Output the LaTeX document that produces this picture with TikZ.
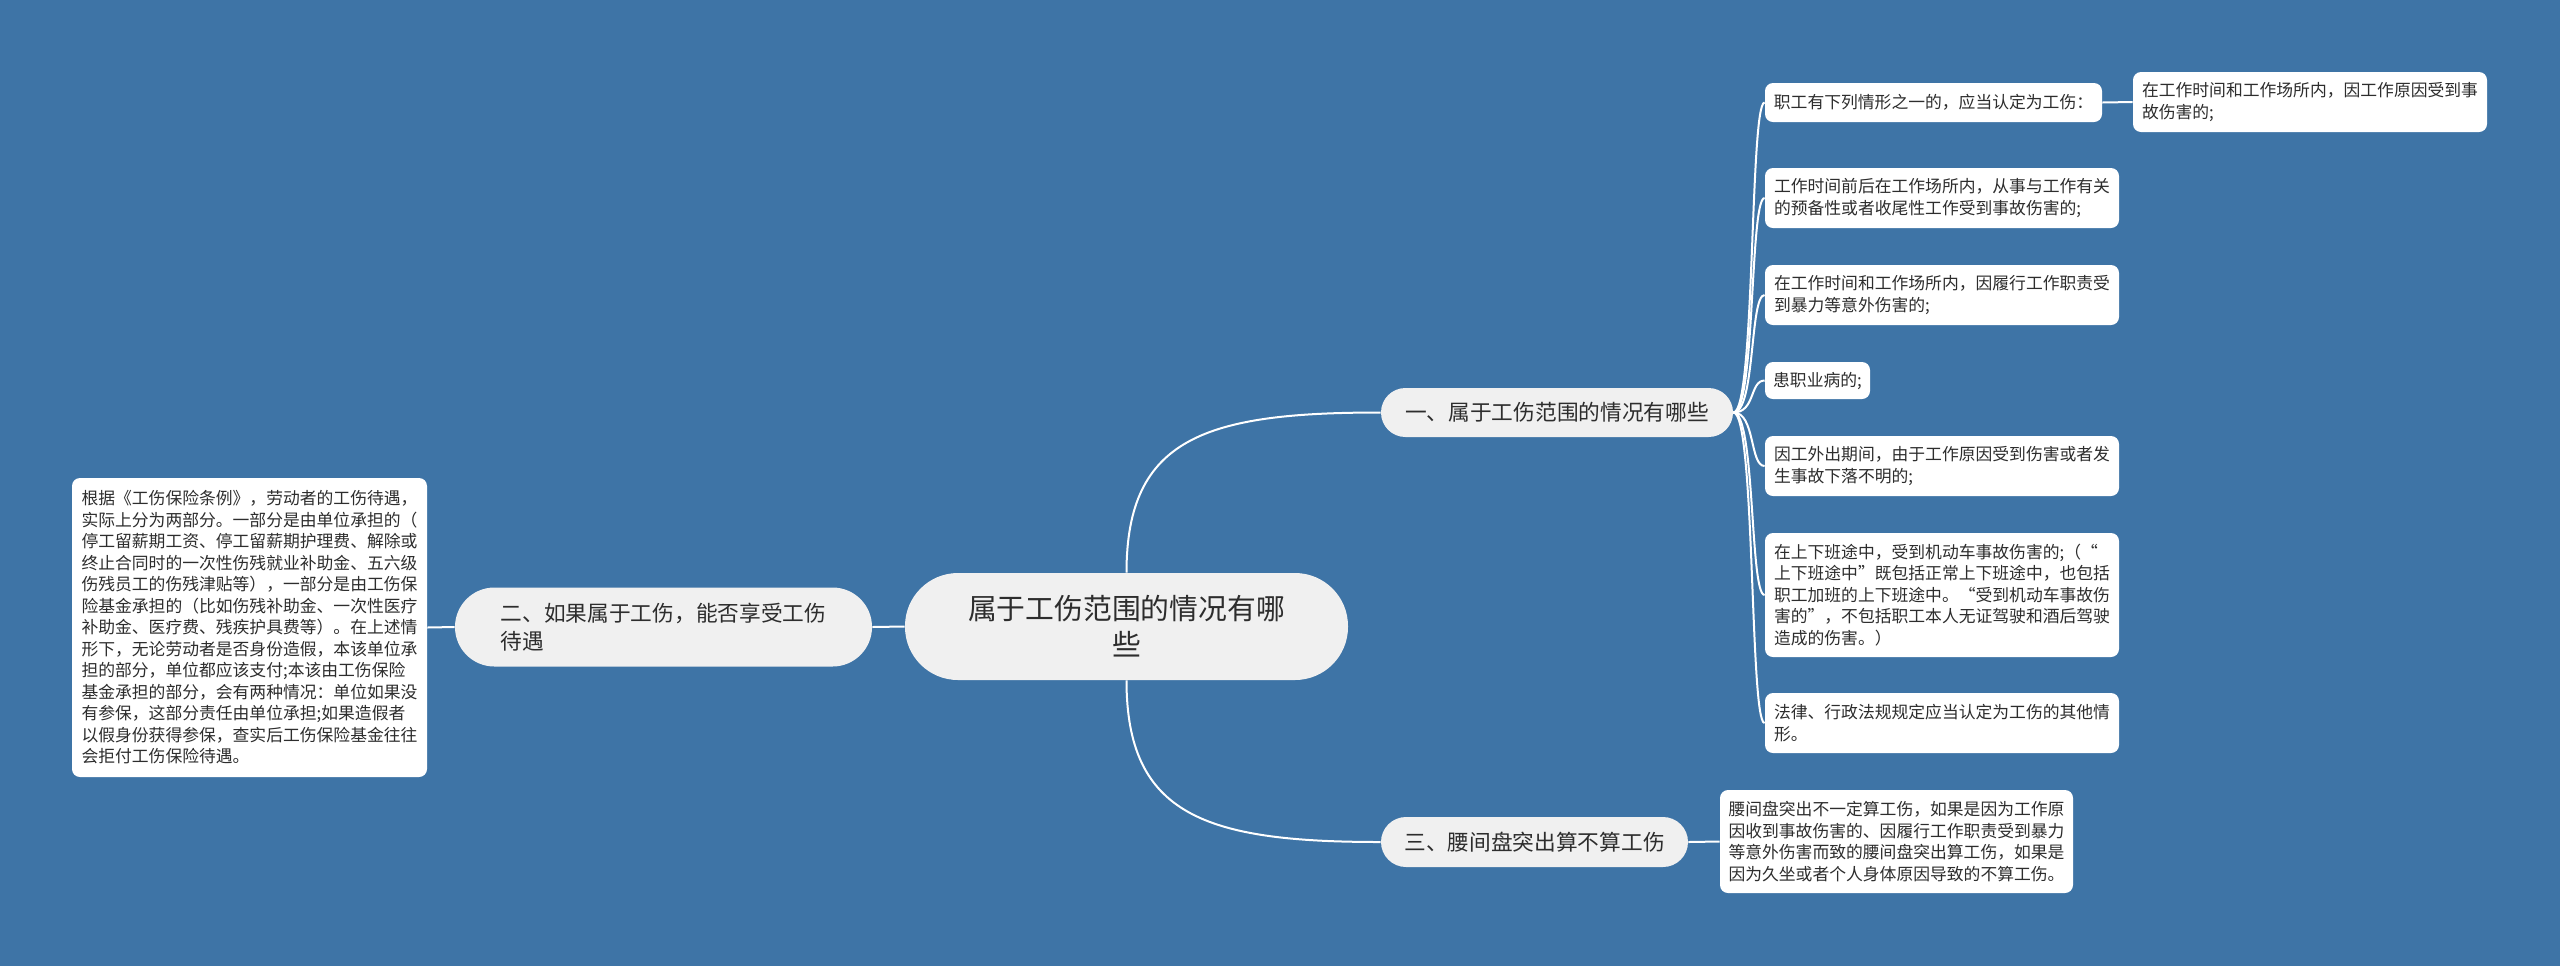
\documentclass[tikz,border=0pt]{standalone}
\usepackage{fontspec}
\setmainfont{Noto Sans CJK SC}
\usepackage{tikz}
\usetikzlibrary{positioning}
\definecolor{bgblue}{RGB}{62,116,166}
\definecolor{nodegray}{RGB}{240,240,240}
\definecolor{inkgray}{RGB}{45,45,45}
\tikzset{root/.style = {fill = nodegray, align = center, text = inkgray, inner sep = 0, font = \fontsize{14.4pt}{18pt}\selectfont}}
\tikzset{topic/.style = {fill = nodegray, align = left, text = inkgray, inner sep = 0, font = \fontsize{10.85pt}{14pt}\selectfont}}
\tikzset{leaf/.style = {fill = white, rounded corners = 4pt, align = left, text = inkgray, inner sep = 0, font = \fontsize{8.4pt}{10.75pt}\selectfont}}
\tikzset{link/.style = {draw = white, line width = 1pt}}

\begin{document}
\begin{tikzpicture}[x = 0.5pt, y = -0.5pt]

      \fill [bgblue] (0, 0) rectangle (2560, 966);

      \node [root, rounded corners = 26.5pt, minimum width = 221.5pt, minimum height = 53.5pt] (0) at (1126.5, 626.5) {属于工伤范围的情况有哪\\些};
      \node [topic, rounded corners = 12.2pt, minimum width = 176pt, minimum height = 24.5pt] (1) at (1557, 412.5) {一、属于工伤范围的情况有哪些};
      \node [topic, rounded corners = 19.7pt, minimum width = 208.5pt, minimum height = 39.5pt] (2) at (663.5, 627) {二、如果属于工伤，能否享受工伤\\待遇};
      \node [topic, rounded corners = 12.5pt, minimum width = 153.5pt, minimum height = 25pt] (3) at (1534.5, 842) {三、腰间盘突出算不算工伤};

      \node [leaf, minimum width = 177.5pt, minimum height = 149.5pt] (4) at (249.5, 627.5) {根据《工伤保险条例》，劳动者的工伤待遇，\\
        实际上分为两部分。一部分是由单位承担的（\\
        停工留薪期工资、停工留薪期护理费、解除或\\
        终止合同时的一次性伤残就业补助金、五六级\\
        伤残员工的伤残津贴等），一部分是由工伤保\\
        险基金承担的（比如伤残补助金、一次性医疗\\
        补助金、医疗费、残疾护具费等）。在上述情\\
        形下，无论劳动者是否身份造假，本该单位承\\
        担的部分，单位都应该支付;本该由工伤保险\\
        基金承担的部分，会有两种情况：单位如果没\\
        有参保，这部分责任由单位承担;如果造假者\\
        以假身份获得参保，查实后工伤保险基金往往\\
        会拒付工伤保险待遇。};

      \node [leaf, minimum width = 168.5pt, minimum height = 19.5pt] (5) at (1933.5, 102.5) {职工有下列情形之一的，应当认定为工伤：};
      \node [leaf, minimum width = 177pt, minimum height = 30pt] (6) at (2310, 102) {在工作时间和工作场所内，因工作原因受到事\\故伤害的;};
      \node [leaf, minimum width = 177pt, minimum height = 30pt] (7) at (1942, 198) {工作时间前后在工作场所内，从事与工作有关\\的预备性或者收尾性工作受到事故伤害的;};
      \node [leaf, minimum width = 177pt, minimum height = 30pt] (8) at (1942, 295) {在工作时间和工作场所内，因履行工作职责受\\到暴力等意外伤害的;};
      \node [leaf, minimum width = 52.5pt, minimum height = 18.5pt] (9) at (1817.5, 380.5) {患职业病的;};
      \node [leaf, minimum width = 177pt, minimum height = 30pt] (10) at (1942, 466) {因工外出期间，由于工作原因受到伤害或者发\\生事故下落不明的;};
      \node [leaf, minimum width = 177pt, minimum height = 62pt] (11) at (1942, 595) {在上下班途中，受到机动车事故伤害的;（“\\
        上下班途中”既包括正常上下班途中，也包括\\
        职工加班的上下班途中。“受到机动车事故伤\\
        害的”，不包括职工本人无证驾驶和酒后驾驶\\
        造成的伤害。）};
      \node [leaf, minimum width = 177pt, minimum height = 30pt] (12) at (1942, 723) {法律、行政法规规定应当认定为工伤的其他情\\形。};
      \node [leaf, minimum width = 176.5pt, minimum height = 51.5pt] (13) at (1896.5, 841.5) {腰间盘突出不一定算工伤，如果是因为工作原\\
        因收到事故伤害的、因履行工作职责受到暴力\\
        等意外伤害而致的腰间盘突出算工伤，如果是\\
        因为久坐或者个人身体原因导致的不算工伤。};

      \draw [link] (0.north) .. controls +(0, -135) and +(-175, 0) .. (1.west);
      \draw [link] (0.south) .. controls +(0, 135) and +(-175, 0) .. (3.west);
      \draw [link] (0.west) -- (2.east);
      \draw [link] (2.west) -- (4.east);
      \draw [link] (1.east) .. controls +(22, 0) and +(-15, 0) .. (5.west);
      \draw [link] (1.east) .. controls +(22, 0) and +(-15, 0) .. (7.west);
      \draw [link] (1.east) .. controls +(22, 0) and +(-15, 0) .. (8.west);
      \draw [link] (1.east) .. controls +(22, 0) and +(-15, 0) .. (9.west);
      \draw [link] (1.east) .. controls +(22, 0) and +(-15, 0) .. (10.west);
      \draw [link] (1.east) .. controls +(22, 0) and +(-15, 0) .. (11.west);
      \draw [link] (1.east) .. controls +(22, 0) and +(-15, 0) .. (12.west);
      \draw [link] (5.east) -- (6.west);
      \draw [link] (3.east) -- (13.west);
    \end{tikzpicture}
\end{document}
